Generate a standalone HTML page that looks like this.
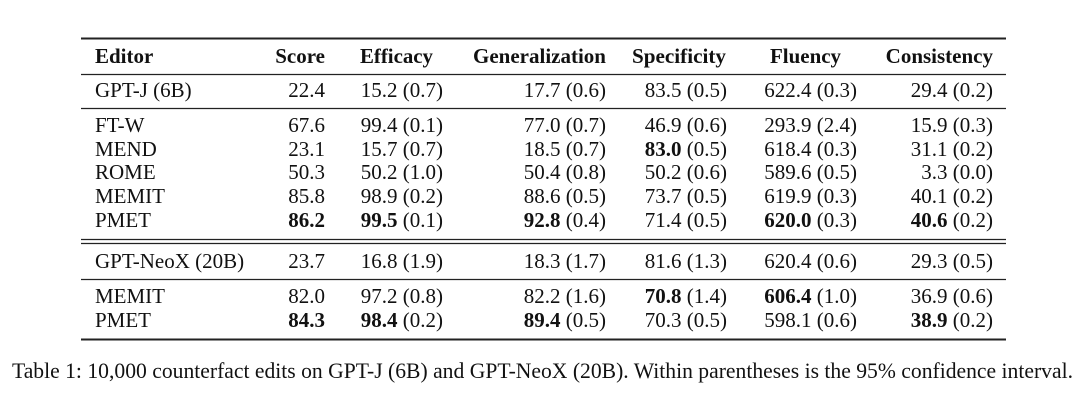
<!DOCTYPE html>
<html><head><meta charset="utf-8"><style>
html,body{margin:0;padding:0;background:#fff;}
svg{display:block;}
text{font-family:"Liberation Serif","Times New Roman",serif;font-size:21px;fill:#111;}
.b{font-weight:bold;}
.cap{font-size:22px;}
</style></head><body>
<svg width="1080" height="418" viewBox="0 0 1080 418" xmlns="http://www.w3.org/2000/svg">
<g stroke="#222">
<line x1="81" y1="38.5" x2="1006" y2="38.5" stroke-width="2"/>
<line x1="81" y1="74.5" x2="1006" y2="74.5" stroke-width="1.2"/>
<line x1="81" y1="108.5" x2="1006" y2="108.5" stroke-width="1.2"/>
<line x1="81" y1="239.5" x2="1006" y2="239.5" stroke-width="1.2"/>
<line x1="81" y1="243.5" x2="1006" y2="243.5" stroke-width="1.2"/>
<line x1="81" y1="279.5" x2="1006" y2="279.5" stroke-width="1.2"/>
<line x1="81" y1="339.5" x2="1006" y2="339.5" stroke-width="2"/>
</g>
<g>
<text class="b" x="95" y="63">Editor</text>
<text class="b" x="325" y="63" text-anchor="end">Score</text>
<text class="b" x="360" y="63" textLength="73" lengthAdjust="spacingAndGlyphs">Efficacy</text>
<text class="b" x="606" y="63" text-anchor="end">Generalization</text>
<text class="b" x="632" y="63" textLength="94" lengthAdjust="spacingAndGlyphs">Specificity</text>
<text class="b" x="770" y="63" textLength="71" lengthAdjust="spacingAndGlyphs">Fluency</text>
<text class="b" x="993" y="63" text-anchor="end">Consistency</text>
</g>
<g>
<text x="95" y="97">GPT-J (6B)</text>
<text x="325" y="97" text-anchor="end">22.4</text>
<text x="443" y="97" text-anchor="end">15.2 (0.7)</text>
<text x="606" y="97" text-anchor="end">17.7 (0.6)</text>
<text x="727" y="97" text-anchor="end">83.5 (0.5)</text>
<text x="857" y="97" text-anchor="end">622.4 (0.3)</text>
<text x="993" y="97" text-anchor="end">29.4 (0.2)</text>

<text x="95" y="132">FT-W</text>
<text x="325" y="132" text-anchor="end">67.6</text>
<text x="443" y="132" text-anchor="end">99.4 (0.1)</text>
<text x="606" y="132" text-anchor="end">77.0 (0.7)</text>
<text x="727" y="132" text-anchor="end">46.9 (0.6)</text>
<text x="857" y="132" text-anchor="end">293.9 (2.4)</text>
<text x="993" y="132" text-anchor="end">15.9 (0.3)</text>

<text x="95" y="156">MEND</text>
<text x="325" y="156" text-anchor="end">23.1</text>
<text x="443" y="156" text-anchor="end">15.7 (0.7)</text>
<text x="606" y="156" text-anchor="end">18.5 (0.7)</text>
<text x="727" y="156" text-anchor="end"><tspan class="b">83.0</tspan> (0.5)</text>
<text x="857" y="156" text-anchor="end">618.4 (0.3)</text>
<text x="993" y="156" text-anchor="end">31.1 (0.2)</text>

<text x="95" y="179">ROME</text>
<text x="325" y="179" text-anchor="end">50.3</text>
<text x="443" y="179" text-anchor="end">50.2 (1.0)</text>
<text x="606" y="179" text-anchor="end">50.4 (0.8)</text>
<text x="727" y="179" text-anchor="end">50.2 (0.6)</text>
<text x="857" y="179" text-anchor="end">589.6 (0.5)</text>
<text x="993" y="179" text-anchor="end">3.3 (0.0)</text>

<text x="95" y="203">MEMIT</text>
<text x="325" y="203" text-anchor="end">85.8</text>
<text x="443" y="203" text-anchor="end">98.9 (0.2)</text>
<text x="606" y="203" text-anchor="end">88.6 (0.5)</text>
<text x="727" y="203" text-anchor="end">73.7 (0.5)</text>
<text x="857" y="203" text-anchor="end">619.9 (0.3)</text>
<text x="993" y="203" text-anchor="end">40.1 (0.2)</text>

<text x="95" y="227">PMET</text>
<text class="b" x="325" y="227" text-anchor="end">86.2</text>
<text x="443" y="227" text-anchor="end"><tspan class="b">99.5</tspan> (0.1)</text>
<text x="606" y="227" text-anchor="end"><tspan class="b">92.8</tspan> (0.4)</text>
<text x="727" y="227" text-anchor="end">71.4 (0.5)</text>
<text x="857" y="227" text-anchor="end"><tspan class="b">620.0</tspan> (0.3)</text>
<text x="993" y="227" text-anchor="end"><tspan class="b">40.6</tspan> (0.2)</text>

<text x="95" y="268">GPT-NeoX (20B)</text>
<text x="325" y="268" text-anchor="end">23.7</text>
<text x="443" y="268" text-anchor="end">16.8 (1.9)</text>
<text x="606" y="268" text-anchor="end">18.3 (1.7)</text>
<text x="727" y="268" text-anchor="end">81.6 (1.3)</text>
<text x="857" y="268" text-anchor="end">620.4 (0.6)</text>
<text x="993" y="268" text-anchor="end">29.3 (0.5)</text>

<text x="95" y="303">MEMIT</text>
<text x="325" y="303" text-anchor="end">82.0</text>
<text x="443" y="303" text-anchor="end">97.2 (0.8)</text>
<text x="606" y="303" text-anchor="end">82.2 (1.6)</text>
<text x="727" y="303" text-anchor="end"><tspan class="b">70.8</tspan> (1.4)</text>
<text x="857" y="303" text-anchor="end"><tspan class="b">606.4</tspan> (1.0)</text>
<text x="993" y="303" text-anchor="end">36.9 (0.6)</text>

<text x="95" y="327">PMET</text>
<text class="b" x="325" y="327" text-anchor="end">84.3</text>
<text x="443" y="327" text-anchor="end"><tspan class="b">98.4</tspan> (0.2)</text>
<text x="606" y="327" text-anchor="end"><tspan class="b">89.4</tspan> (0.5)</text>
<text x="727" y="327" text-anchor="end">70.3 (0.5)</text>
<text x="857" y="327" text-anchor="end">598.1 (0.6)</text>
<text x="993" y="327" text-anchor="end"><tspan class="b">38.9</tspan> (0.2)</text>
</g>
<text class="cap" x="12" y="378" textLength="1061" lengthAdjust="spacingAndGlyphs">Table 1: 10,000 counterfact edits on GPT-J (6B) and GPT-NeoX (20B). Within parentheses is the 95% confidence interval.</text>
</svg>
</body></html>
